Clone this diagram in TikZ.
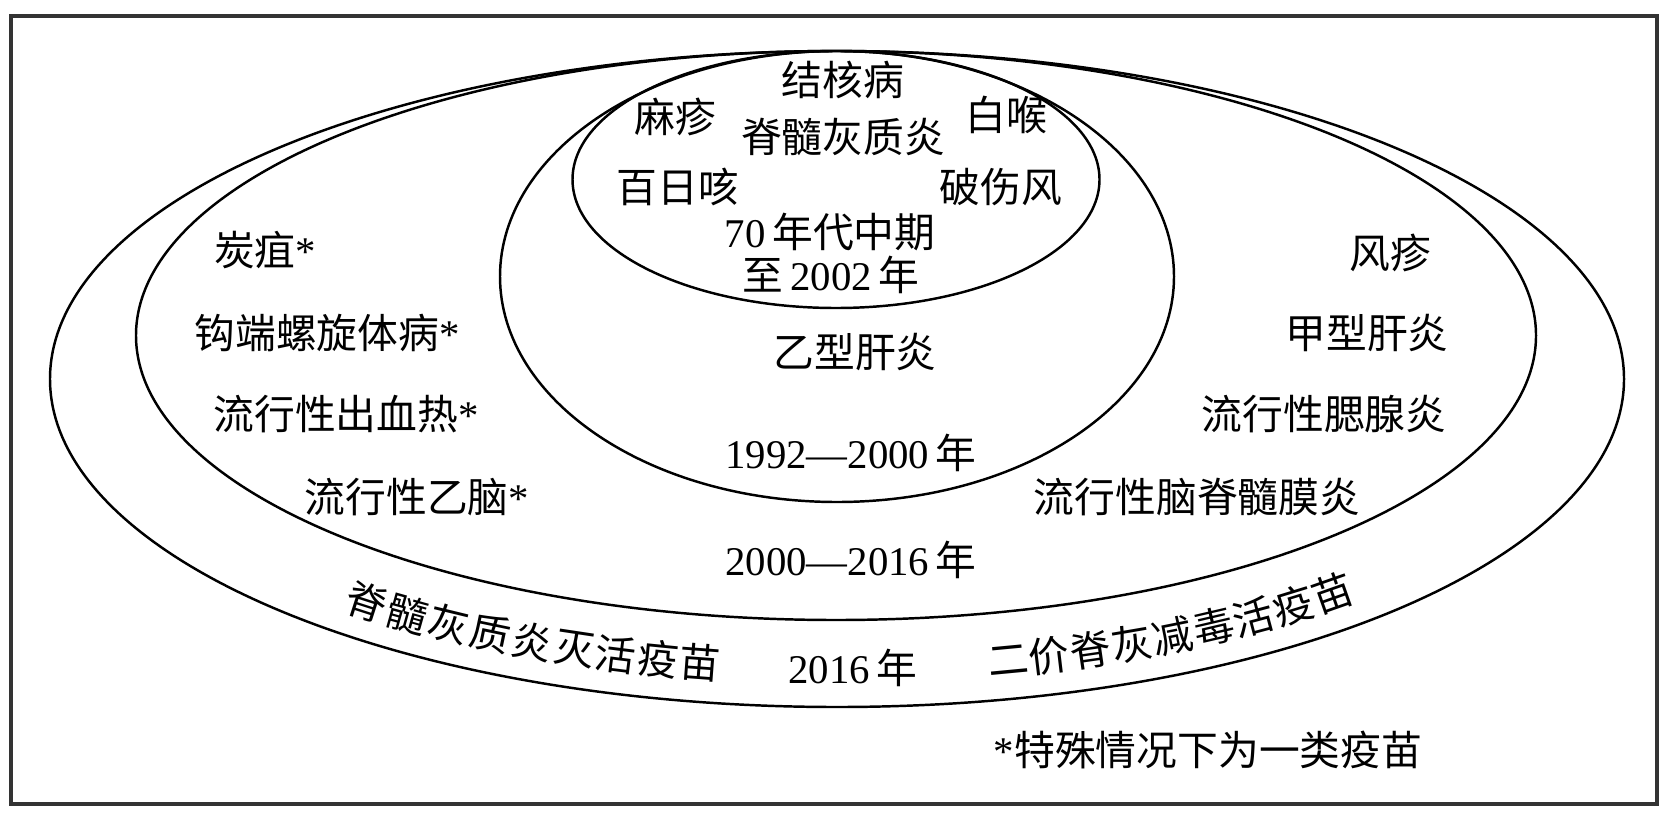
\documentclass[tikz,border=0pt]{standalone}
\usepackage{fontspec}
\setmainfont{Liberation Serif}
\newfontfamily\cjk{Noto Sans CJK SC}
\begin{document}
\begin{tikzpicture}[x=0.01cm,y=-0.01cm,
  lbl/.style={font=\cjk\fontsize{11.6pt}{14pt}\selectfont, inner sep=0pt},
  ring/.style={draw=black, line width=0.7pt},
  frame/.style={draw=black!80, line width=0.9pt}]
\useasboundingbox (0,0) rectangle (1670,815);
\draw[frame] (11,16) rectangle (1657,804);
% nested ellipses
\draw[ring] (837,379) ellipse [x radius=787, y radius=328];
\draw[ring] (836,335.5) ellipse [x radius=700, y radius=284.5];
\draw[ring] (837,276.5) ellipse [x radius=337, y radius=225.5];
\draw[ring] (836,179.5) ellipse [x radius=263.5, y radius=128.5];
% innermost
\node[lbl] (jhb) at (843,80) {结核病};
\node[lbl] (mz) at (675,117) {麻疹};
\node[lbl] (jsh) at (843,137) {脊髓灰质炎};
\node[lbl] (bh) at (1006,115) {白喉};
\node[lbl] (brk) at (678,187) {百日咳};
\node[lbl] (psf) at (1001,187) {破伤风};
\node[lbl] (p1a) at (830,232) {\textrm{70\,}年代中期};
\node[lbl] (p1b) at (831,275) {至\textrm{\,2002\,}年};
% second
\node[lbl] (yg) at (855,352) {乙型肝炎};
\node[lbl] (p2) at (851,453) {\textrm{1992—2000\,}年};
% third
\node[lbl] (tj) at (265,250) {炭疽\textrm{*}};
\node[lbl] (gd) at (327,333) {钩端螺旋体病\textrm{*}};
\node[lbl] (lx) at (346,414) {流行性出血热\textrm{*}};
\node[lbl] (yn) at (417,497) {流行性乙脑\textrm{*}};
\node[lbl] (fz) at (1390,253) {风疹};
\node[lbl] (jg) at (1367,333) {甲型肝炎};
\node[lbl] (sx) at (1324,414) {流行性腮腺炎};
\node[lbl] (nm) at (1197,497) {流行性脑脊髓膜炎};
\node[lbl] (p3) at (851,560) {\textrm{2000—2016\,}年};
% outer
\node[lbl] (p4) at (853,668) {\textrm{2016\,}年};
\foreach \c/\t [count=\i] in {脊/128.2,髓/124.4,灰/120.7,质/117.1,炎/113.6,灭/110.2,活/106.9,疫/103.6,苗/100.4}{
  \pgfmathsetmacro\r{atan2(311*cos(\t),760*sin(\t))}
  \node[lbl, rotate=\r] (l\i) at ({837+760*cos(\t)},{357+311*sin(\t)}) {\c};
}
\foreach \c/\t [count=\i] in {二/77,价/73.8,脊/70.5,灰/67.2,减/63.8,毒/60.3,活/56.8,疫/53.1,苗/49.3}{
  \pgfmathsetmacro\r{atan2(311*cos(\t),760*sin(\t))}
  \node[lbl, rotate=\r] (r\i) at ({837+760*cos(\t)},{357+311*sin(\t)}) {\c};
}
\node[lbl] (note) at (1208,750) {\textrm{*}特殊情况下为一类疫苗};
\end{tikzpicture}
\end{document}
